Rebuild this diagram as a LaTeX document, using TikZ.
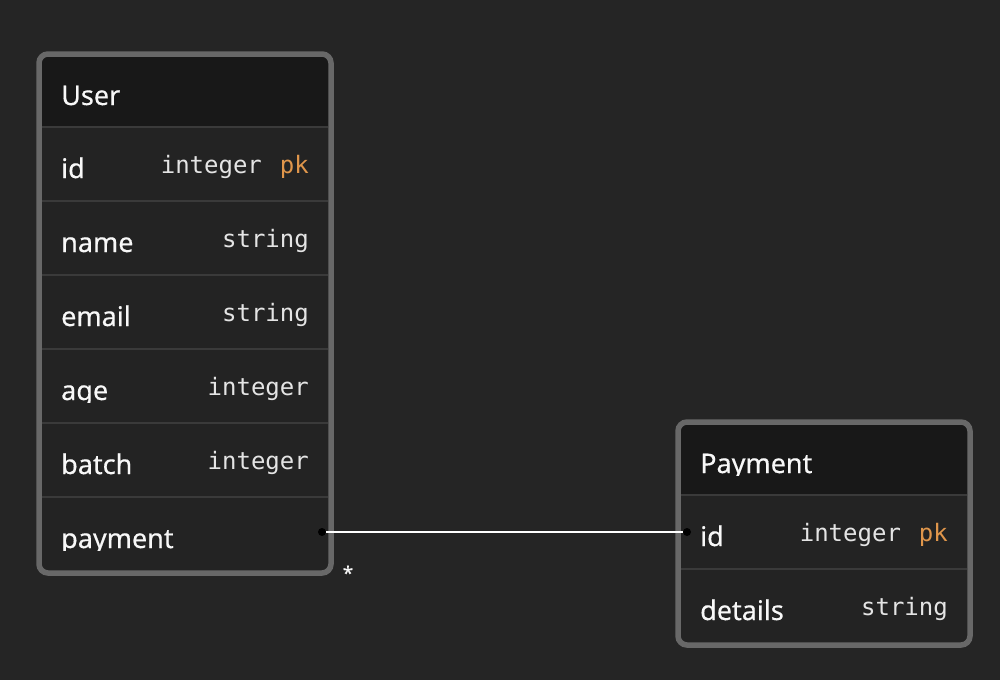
\documentclass[tikz,border=0pt]{standalone}
\usepackage{fontspec}
\setsansfont{Noto Sans}[FakeBold=0.45]
\setmonofont{DejaVu Sans Mono}
\usepackage{tikz}
\usetikzlibrary{positioning}
\definecolor{canvasColor}{RGB}{37,37,37}
\definecolor{rowColor}{RGB}{35,35,35}
\definecolor{headerColor}{RGB}{24,24,24}
\definecolor{borderColor}{RGB}{104,104,104}
\definecolor{ruleColor}{RGB}{58,58,58}
\definecolor{nameColor}{RGB}{248,248,248}
\definecolor{typeColor}{RGB}{228,228,228}
\definecolor{pkColor}{RGB}{224,150,75}
\tikzstyle{canvas} = [x = 1pt, y = -1pt]
\tikzstyle{tableFill} = [fill=rowColor, rounded corners = 9pt]
\tikzstyle{tableBorder} = [color=borderColor, line width = 5.5pt, rounded corners = 9pt]
\tikzstyle{ruleLine} = [color=ruleColor, line width = 1.5pt]
\tikzstyle{nameText} = [font=\sffamily\fontsize{27}{30}\selectfont, text=nameColor, anchor=base west, inner sep=0pt]
\tikzstyle{typeText} = [font=\ttfamily\fontsize{24}{27}\selectfont, text=typeColor, anchor=base east, inner sep=0pt]
\tikzstyle{starText} = [font=\sffamily\fontsize{19}{21}\selectfont, text=nameColor, anchor=base, inner sep=0pt]
\tikzstyle{keyDot} = [circle, fill=black, inner sep=0pt, minimum size = 8pt]
\tikzstyle{linkLine} = [color=white, line width = 2pt]
\newcommand{\pkMark}{\hspace{3.5pt}\textcolor{pkColor}{pk}}
\newcommand{\tableBox}[5]{
  \fill [tableFill] (#1,#2) rectangle (#3,#4);
  \begin{scope}
    \clip [rounded corners = 9pt] (#1,#2) rectangle (#3,#4);
    \fill [headerColor] (#1,#2) rectangle (#3,#5);
  \end{scope}
}
\newcommand{\tableRules}[5]{
  \foreach \k in {0,...,#5} {
    \pgfmathsetmacro{\ruleY}{#3 + 74 * \k}
    \draw [ruleLine] (#1, \ruleY) -- (#2, \ruleY);
  }
}
\newcommand{\fieldName}[4]{
  \begin{scope}
    \clip (#2 - 5, #3 - 45) rectangle (#2 + 200, #3 + 2);
    \node [nameText] (#1) at (#2, #3) {#4};
  \end{scope}
}
\begin{document}
\begin{tikzpicture}[canvas]
  \fill [canvasColor] (0,0) rectangle (1000,680);
  \useasboundingbox (0,0) rectangle (1000,680);

  \tableBox{39}{54}{331}{573}{127}
  \tableRules{42}{328}{127}{0}{5}
  \draw [tableBorder] (39,54) rectangle (331,573);
  \fieldName{userTitle}{61}{105}{User}
  \foreach \fname/\ftype [count=\i from 0] in {id/{integer \pkMark}, name/string, email/string, age/integer, batch/integer, payment/{}} {
    \pgfmathsetmacro{\nameY}{178 + 74 * \i}
    \pgfmathsetmacro{\typeY}{173 + 74 * \i}
    \fieldName{user-\fname}{61}{\nameY}{\fname}
    \node [typeText] (user-\fname-type) at (309, \typeY) {\ftype};
  }

  \tableBox{678}{422}{970}{645}{495}
  \tableRules{681}{967}{495}{0}{1}
  \draw [tableBorder] (678,422) rectangle (970,645);
  \fieldName{paymentTitle}{700}{473}{Payment}
  \foreach \fname/\ftype [count=\i from 0] in {id/{integer \pkMark}, details/string} {
    \pgfmathsetmacro{\nameY}{546 + 74 * \i}
    \pgfmathsetmacro{\typeY}{541 + 74 * \i}
    \fieldName{payment-\fname}{700}{\nameY}{\fname}
    \node [typeText] (payment-\fname-type) at (948, \typeY) {\ftype};
  }

  \node [keyDot] (userPayDot) at (322,532) {};
  \node [keyDot] (paymentIdDot) at (687,532) {};
  \draw [linkLine] (userPayDot) -- (paymentIdDot);
  \node [starText] (userPayMany) at (348,580) {*};
\end{tikzpicture}
\end{document}
